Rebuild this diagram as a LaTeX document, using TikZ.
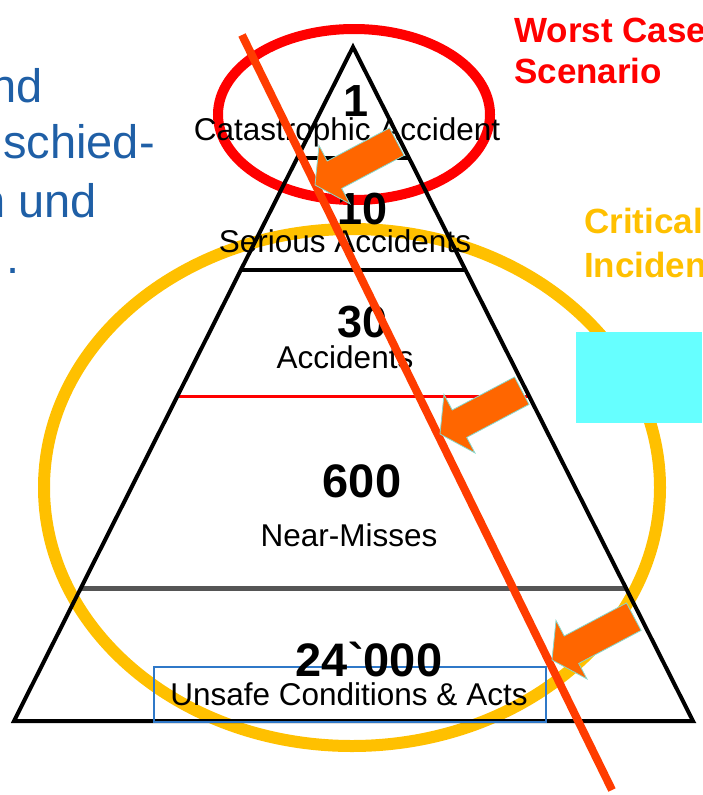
\documentclass[tikz,border=0pt]{standalone}
\usepackage{fontspec}
\setmainfont{Liberation Sans}
\newfontfamily\plainarial{Liberation Sans}
\usetikzlibrary{calc}
\definecolor{blueT}{HTML}{1F5FA6}
\definecolor{yel}{HTML}{FFC000}
\definecolor{diagred}{HTML}{FF3C00}
\definecolor{arrowfill}{HTML}{FF6600}
\definecolor{arrowedge}{HTML}{86D8CC}
\definecolor{cyanbox}{HTML}{66FFFF}
\definecolor{rectblue}{HTML}{2F78C8}
\definecolor{midgray}{HTML}{555555}
\begin{document}
\begin{tikzpicture}[x=1pt,y=-1pt,
  lbl/.style={font=\fontsize{31.5}{31.5}\selectfont, anchor=base, inner sep=0pt},
  num/.style={font=\fontsize{45}{45}\selectfont\bfseries, anchor=base, inner sep=0pt},
  bignum/.style={font=\plainarial\fontsize{47}{47}\selectfont\bfseries, anchor=base, inner sep=0pt},
  sidetext/.style={font=\fontsize{47}{47}\selectfont, text=blueT, inner sep=0pt},
  headred/.style={font=\fontsize{35}{35}\selectfont\bfseries, text=red, anchor=base west, inner sep=0pt},
  headyel/.style={font=\fontsize{35}{35}\selectfont\bfseries, text=yel, anchor=base west, inner sep=0pt},
  tier/.style={line width=3.5pt},
  blockarrow/.pic={\filldraw[fill=arrowfill, draw=arrowedge, line width=0.8pt]
     (0,0) -- ++(4.01,-39.47) -- ++(8.19,15.47) -- ++(62.32,-32.99)
     -- ++(14.5,27.4) -- ++(-62.32,32.99) -- ++(8.19,15.47) -- cycle;}
]
\useasboundingbox (0,0) rectangle (702,795);
\begin{scope}
\clip (0,0) rectangle (702,795);

% ellipses
\draw[yel, line width=12pt] (352,487.5) ellipse [x radius=308pt, y radius=258.5pt];
\draw[red, line width=10pt] (354,114.5) ellipse [x radius=136pt, y radius=85.5pt];

% pyramid
\coordinate (apex) at (353,47);
\coordinate (bl) at (14,721);
\coordinate (br) at (693,721);
\coordinate (l1) at ($(apex)!0.1647!(bl)$);
\coordinate (r1) at ($(apex)!0.1647!(br)$);
\coordinate (l2) at ($(apex)!0.3309!(bl)$);
\coordinate (r2) at ($(apex)!0.3309!(br)$);
\coordinate (l3) at ($(apex)!0.5178!(bl)$);
\coordinate (r3) at ($(apex)!0.5178!(br)$);
\coordinate (l4) at ($(apex)!0.8027!(bl)$);
\coordinate (r4) at ($(apex)!0.8027!(br)$);
\draw[tier] (l1) -- (r1);
\draw[tier] (l2) -- (r2);
\draw[red, line width=3pt] (l3) -- (r3);
\draw[midgray, line width=5pt] (l4) -- (r4);
\draw[line width=4pt] (apex) -- (bl) -- (br) -- cycle;

% blue frame
\node[draw=rectblue, line width=1.5pt, minimum width=392pt, minimum height=55pt, inner sep=0pt] (frame) at (350,694.5) {};

% labels
\node[num] (n1) at (356,116) {1};
\node[lbl] (t1) at (347,140) {Catastrophic Accident};
\node[num] (n10) at (363,224) {10};
\node[lbl] (t10) at (345,252) {Serious Accidents};
\node[num] (n30) at (363,337) {30};
\node[lbl] (t30) at (345,368) {Accidents};
\node[bignum] (n600) at (362,497) {600};
\node[lbl] (t600) at (349,546) {Near-Misses};
\node[bignum] (n24) at (369,676) {24`000};
\node[lbl] (t24) at (349,705) {Unsafe Conditions \& Acts};

% left text
\node[sidetext, anchor=base east] (s1) at (43,102) {nd};
\node[sidetext, anchor=base east] (s2) at (155,158) {schied-};
\node[sidetext, anchor=base east] (s3) at (97,217) {n und};
\node[sidetext, anchor=base west] (s4) at (6,273) {.};

% right headings
\node[headred] (h1) at (514,42) {Worst Case};
\node[headred] (h2) at (514,83) {Scenario};
\node[headyel] (h3) at (584,233) {Critical};
\node[headyel] (h4) at (584,277) {Incidents};

% cyan box
\fill[cyanbox] (576,332) rectangle (702,423);

% diagonal
\coordinate (dtop) at (242,35);
\coordinate (dbot) at (612,790);
\draw[diagred, line width=8pt] (dtop) -- (dbot);

% arrows
\pic (arrA) at (315,185) {blockarrow};
\pic (arrB) at (440,434) {blockarrow};
\pic (arrC) at (552,660) {blockarrow};
\end{scope}
\end{tikzpicture}
\end{document}
